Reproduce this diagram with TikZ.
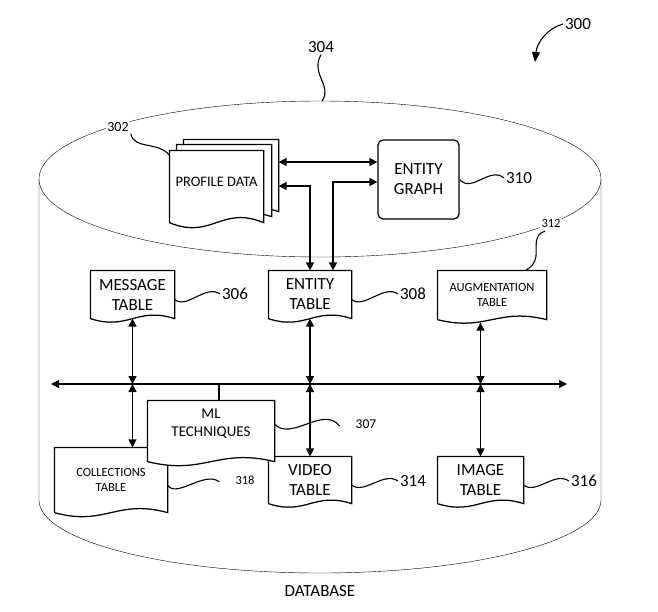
\documentclass[tikz,border=0pt]{standalone}
\usepackage{fontspec}
\setmainfont{Carlito}
\usetikzlibrary{arrows.meta,calc,backgrounds}
\newcommand\docshape[3]{%
  \path[docline] (#1.north west) -- ($(#1.south west)+(0,#3)$)
    .. controls ($(#1.south west)!0.45!(#1.south east)+(0,{#3+3.5*#2})$)
    and ($(#1.south west)!0.55!(#1.south east)+(0,{#3-3.5*#2})$)
    .. ($(#1.south east)+(0,#3)$) -- (#1.north east) -- cycle;}
\begin{document}
\begin{tikzpicture}[x=1pt,y=-1pt,line width=1.25pt,
  box/.style={inner sep=0pt,align=center},
  big/.style={font=\fontsize{17}{20}\selectfont},
  mid/.style={font=\fontsize{15}{18}\selectfont},
  small/.style={font=\fontsize{12.5}{14.5}\selectfont},
  num/.style={font=\fontsize{17}{20}\selectfont,fill=white,inner sep=1.5pt},
  docline/.style={draw,fill=white,line width=1.25pt},
  biarrow/.style={{Triangle[length=8pt,width=8pt]}-{Triangle[length=8pt,width=8pt]}},
  lead/.style={line width=1.1pt}]
\useasboundingbox (0,0) rectangle (658,611);

% document-like nodes
\node[box,minimum width=94,minimum height=62] (profile3) at (231,171) {};
\node[box,minimum width=94,minimum height=62] (profile2) at (224,176) {};
\node[box,minimum width=93,minimum height=62,font=\fontsize{14.5}{17}\selectfont] (profile) at (216.5,182) {PROFILE DATA};
\node[draw,rounded corners=5pt,box,big,minimum width=81,minimum height=79] (graph) at (418.5,179.5) {ENTITY\\GRAPH};
\node[box,big,minimum width=83,minimum height=47] (message) at (132.5,294.5) {MESSAGE\\TABLE};
\node[box,big,minimum width=82,minimum height=47] (etable) at (310,294.5) {ENTITY\\TABLE};
\node[box,small,minimum width=108,minimum height=48] (aug) at (492,295) {AUGMENTATION\\TABLE};
\node[box,small,minimum width=112,minimum height=64] (collections) at (111,480) {COLLECTIONS\\TABLE};
\node[box,big,minimum width=82,minimum height=46] (video) at (310,480) {VIDEO\\TABLE};
\node[box,big,minimum width=85,minimum height=46] (image) at (480.5,480) {IMAGE\\TABLE};
\node[box,mid,minimum width=126,minimum height=46] (ml) at (211,424) {ML\\TECHNIQUES};

% labels
\node[num] (l300) at (578,24) {300};
\node[num] (l304) at (321,47) {304};
\node[num,font=\fontsize{14}{16}\selectfont] (l302) at (118,127) {302};
\node[num] (l310) at (519,178) {310};
\node[num,font=\fontsize{12.5}{14}\selectfont] (l312) at (551,223) {312};
\node[num] (l306) at (235,294) {306};
\node[num] (l308) at (413,294) {308};
\node[num,font=\fontsize{13.5}{16}\selectfont] (l307) at (366,424) {307};
\node[num,font=\fontsize{12.5}{14}\selectfont] (l318) at (245,480) {318};
\node[num] (l314) at (413,481) {314};
\node[num] (l316) at (584,481) {316};
\node[num] (db) at (320,591) {DATABASE};

\begin{scope}[on background layer]
  \fill[white] (0,0) rectangle (658,611);
  % cylinder
  \draw (39,179) .. controls (39,135.9) and (164.8,101) .. (320,101)
        .. controls (475.2,101) and (601,135.9) .. (601,179)
        .. controls (601,222.1) and (475.2,257) .. (320,257)
        .. controls (164.8,257) and (39,222.1) .. (39,179) -- cycle;
  \draw (39,179) -- (39,500) .. controls (39,540.3) and (164.8,573) .. (320,573)
        .. controls (475.2,573) and (601,540.3) .. (601,500) -- (601,179);
  \docshape{profile3}{4}{9}
  \docshape{profile2}{4}{9}
  \docshape{profile}{5}{9}
  \docshape{message}{3.5}{0}
  \docshape{etable}{3.5}{0}
  \docshape{aug}{3.5}{0}
  \docshape{collections}{4}{0}
  \docshape{video}{3.5}{0}
  \docshape{image}{3.5}{0}
  \docshape{ml}{4}{14}
\end{scope}

% connectors
\coordinate (busL) at (51,384);
\coordinate (busR) at (567,384);
\coordinate (p0) at (0,162);
\coordinate (p1) at (310,186);
\coordinate (p2) at (333,182);
\coordinate (top) at (322,101);
\coordinate (a300) at (535,62);
\coordinate (mlt) at ([xshift=8pt]ml.north);
\coordinate (augb) at ($(aug.south -| image.north)+(0,3)$);

\draw[biarrow] (busL) -- (busR);
\draw[biarrow] (profile3.east |- p0) -- (graph.west |- p0);
\draw[biarrow] (profile3.east |- p1) -| (etable.north);
\draw[biarrow] (graph.west |- p2) -| (etable.north -| p2);

\draw[biarrow] (message.south) -- (message.south |- busL);
\draw[biarrow] (etable.south) -- (etable.south |- busL);
\draw[biarrow] (augb) -- (augb |- busL);
\draw[biarrow] (message.south |- busL) -- (message.south |- collections.north);
\draw[biarrow] (etable.south |- busL) -- (video.north);
\draw[biarrow] (image.north |- busL) -- (image.north);
\draw (mlt |- busL) -- (mlt);

% reference leads
\draw[lead,-{Triangle[length=10pt,width=8pt]}] (l300.west) .. controls (548,28) and (537,42) .. (a300);
\draw[lead] (l304.south) .. controls (310,74) and (333,86) .. (top);
\draw[lead] (l302.south east) .. controls +(3,16) and +(-10,-14) .. ([yshift=-5pt]profile.north west);
\draw[lead] (graph.east) .. controls +(12,14) and +(-14,-12) .. (l310.west);
\coordinate (s312) at ($(l312.south)+(-6,2)$);
\coordinate (m312) at (536,256);
\draw[lead] (s312) .. controls +(-12,3) and +(1,-8) .. (m312)
  .. controls +(-1,8) and +(5,-3) .. ($(aug.north east)+(-21,0)$);
\draw[lead] ([yshift=-5pt]message.east) .. controls +(12,10) and +(-14,-10) .. (l306.west);
\draw[lead] ([yshift=-5pt]etable.east) .. controls +(12,10) and +(-14,-10) .. (l308.west);
\draw[lead] (ml.east) .. controls +(16,18) and +(-16,-21) .. ($(l307.west)+(-14,2)$);
\draw[lead] ([yshift=-5pt]collections.east) .. controls +(8,14) and +(-14,-12) .. ($(l318.west)+(-14,2)$);
\draw[lead] ([yshift=-5pt]video.east) .. controls +(12,10) and +(-14,-10) .. (l314.west);
\draw[lead] ([yshift=-5pt]image.east) .. controls +(12,10) and +(-14,-10) .. (l316.west);
\end{tikzpicture}
\end{document}
